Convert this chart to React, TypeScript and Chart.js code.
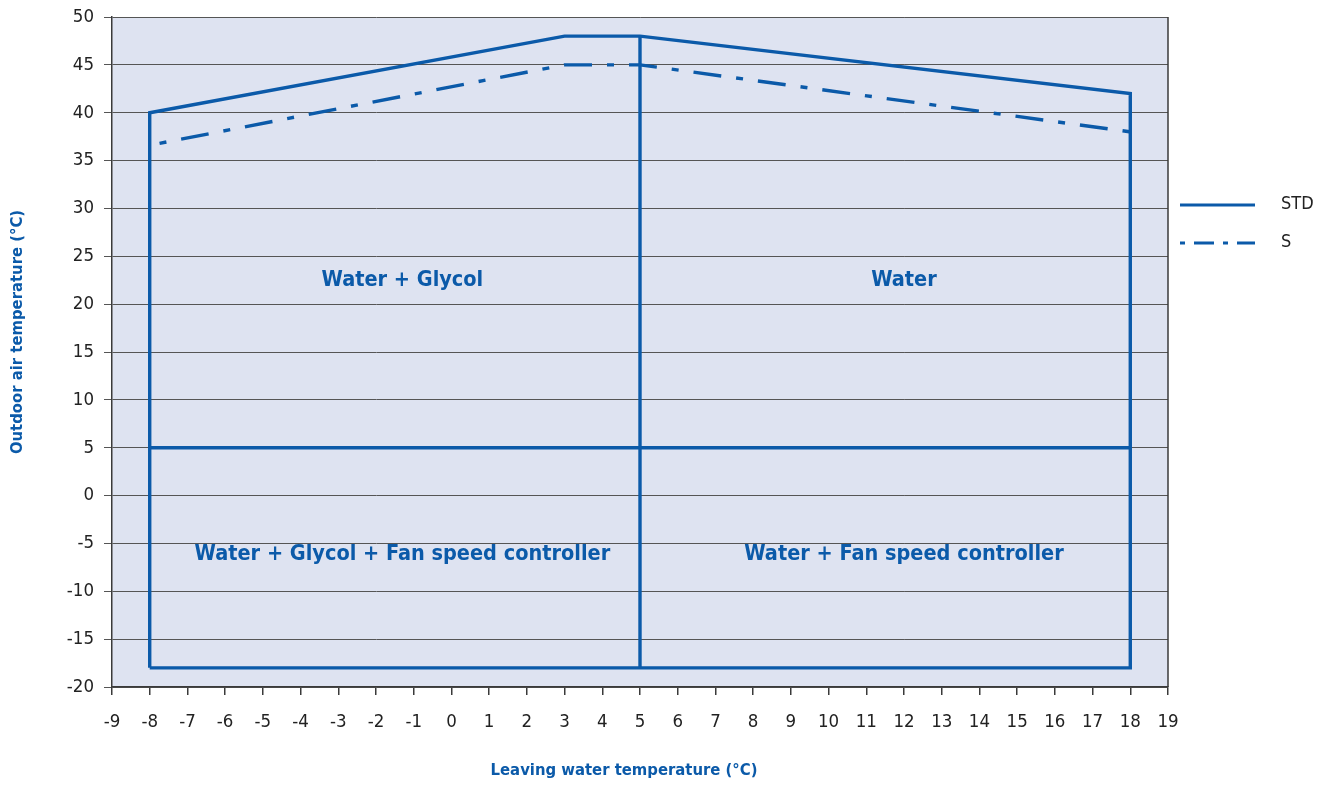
import React, { useEffect, useRef } from "react";
import { Chart, registerables } from "chart.js";

Chart.register(...registerables);

// ---- data ----
const xTickMin = -9;
const xTickMax = 19;
const yTickMin = -20;
const yTickMax = 50;

const stdEnvelopeX = [-8, -8, 3, 5, 18, 18, -8];
const stdEnvelopeY = [-18, 40, 48, 48, 42, -18, -18];
const dividerX = [5, 5];
const dividerY = [-18, 48];
const fanLimitX = [-8, 18];
const fanLimitY = [5, 5];
const sEnvelopeX = [-8, 3, 5, 18];
const sEnvelopeY = [36.6, 45, 45, 38];

const regionTexts = [
  "Water + Glycol",
  "Water",
  "Water + Glycol + Fan speed controller",
  "Water + Fan speed controller",
];
const regionX = [-1.3, 12, -1.3, 12];
const regionY = [22.5, 22.5, -6.1, -6.1];

const legendLabels = ["STD", "S"];
const xTitle = "Leaving water temperature (°C)";
const yTitle = "Outdoor air temperature (°C)";

// ---- styles ----
const BLUE = "#0b5aa9";
const FONT = "'Liberation Sans Narrow', 'DejaVu Sans Condensed', 'Roboto Condensed', 'Arial Narrow', sans-serif";
const S_DASH = [28, 15, 7, 15];

const zip = (xs: number[], ys: number[]) => xs.map((x, i) => ({ x, y: ys[i] }));

const framePlugin = {
  id: "frame",
  beforeDraw(chart: any) {
    const { ctx, chartArea: a } = chart;
    ctx.save();
    ctx.fillStyle = "#dee3f1";
    ctx.fillRect(a.left, a.top, a.right - a.left, a.bottom - a.top);
    ctx.restore();
  },
  afterDraw(chart: any) {
    const { ctx, chartArea: a, scales } = chart;
    ctx.save();
    ctx.strokeStyle = "#3a3a3a";
    ctx.lineWidth = 1.5;
    ctx.beginPath();
    ctx.moveTo(a.right, a.top);
    ctx.lineTo(a.right, a.bottom);
    ctx.stroke();

    // region labels
    ctx.fillStyle = BLUE;
    ctx.font = `bold 21.5px ${FONT}`;
    ctx.textAlign = "center";
    ctx.textBaseline = "middle";
    regionTexts.forEach((t, i) => {
      ctx.fillText(t, scales.x.getPixelForValue(regionX[i]), scales.y.getPixelForValue(regionY[i]));
    });

    // axis titles
    ctx.font = `bold 16.5px ${FONT}`;
    ctx.fillText(xTitle, 624, 771);
    ctx.save();
    ctx.translate(18, 332);
    ctx.rotate(-Math.PI / 2);
    ctx.fillText(yTitle, 0, 0);
    ctx.restore();

    // legend
    const lx0 = 1180;
    const lx1 = 1255;
    const rows = [205, 243];
    legendLabels.forEach((lab, i) => {
      const y = rows[i];
      ctx.strokeStyle = BLUE;
      ctx.lineWidth = 3;
      ctx.setLineDash(i === 0 ? [] : [5, 9, 20, 9]);
      ctx.lineDashOffset = 0;
      ctx.beginPath();
      ctx.moveTo(lx0, y);
      ctx.lineTo(lx1, y);
      ctx.stroke();
      ctx.setLineDash([]);
      ctx.fillStyle = "#222";
      ctx.font = `18px ${FONT}`;
      ctx.textAlign = "left";
      ctx.textBaseline = "middle";
      ctx.fillText(lab, 1281, y - 1);
    });
    ctx.restore();
  },
};

export default function App() {
  const ref = useRef<HTMLCanvasElement>(null);
  useEffect(() => {
    if (!ref.current) return;
    const lineBase = {
      borderColor: BLUE,
      backgroundColor: BLUE,
      borderWidth: 3.4,
      pointRadius: 0,
      fill: false,
      tension: 0,
      showLine: true,
    };
    const chart = new Chart(ref.current, {
      type: "scatter",
      data: {
        datasets: [
          { ...lineBase, label: "S", data: zip(sEnvelopeX, sEnvelopeY), borderDash: S_DASH, borderDashOffset: 33, borderCapStyle: "butt" },
          { ...lineBase, label: "STD", data: zip(stdEnvelopeX, stdEnvelopeY), borderJoinStyle: "miter" },
          { ...lineBase, label: "STD divider", data: zip(dividerX, dividerY) },
          { ...lineBase, label: "STD fan", data: zip(fanLimitX, fanLimitY) },
        ] as any,
      },
      options: {
        responsive: false,
        animation: false,
        layout: { padding: { top: 17, right: 160, left: 0, bottom: 0 } },
        plugins: { legend: { display: false }, tooltip: { enabled: false } },
        scales: {
          x: {
            type: "linear",
            min: xTickMin,
            max: xTickMax,
            afterFit: (s: any) => { s.height = 98; s.paddingLeft = 0; s.paddingRight = 0; },
            ticks: { stepSize: 1, color: "#222", font: { size: 18.5, family: FONT }, padding: 16, maxRotation: 0, autoSkip: false },
            grid: { drawOnChartArea: false, drawTicks: true, tickLength: 8, color: "#3a3a3a", lineWidth: 1.5 },
            border: { color: "#3a3a3a", width: 1.5 },
            title: { display: false },
          },
          y: {
            type: "linear",
            min: yTickMin,
            max: yTickMax,
            afterFit: (s: any) => { s.width = 112; s.paddingTop = 0; s.paddingBottom = 0; },
            ticks: { stepSize: 5, color: "#222", font: { size: 18.5, family: FONT }, padding: 10 },
            grid: { drawTicks: true, tickLength: 8, color: "#555", lineWidth: 1 },
            border: { color: "#3a3a3a", width: 1.5 },
            title: { display: false },
          },
        },
      } as any,
      plugins: [framePlugin],
    });
    return () => chart.destroy();
  }, []);
  return (
    <div style={{ position: "absolute", left: 0, top: 0, width: 1328, height: 785 }}>
      <canvas ref={ref} width={1328} height={785} style={{ display: "block" }} />
    </div>
  );
}
